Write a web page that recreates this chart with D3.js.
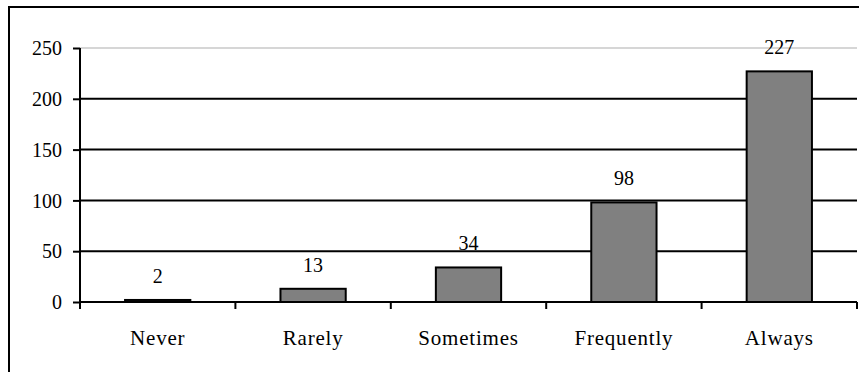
<!DOCTYPE html>
<html>
<head>
<meta charset="utf-8">
<script src="https://cdn.jsdelivr.net/npm/d3@7"></script>
<style>
  html, body { margin: 0; padding: 0; background: #fff; }
  svg { display: block; }
</style>
</head>
<body>
<svg id="chart" width="859" height="372" style="font-family:'Liberation Serif'"></svg>
<script>
// Frequency of responses per answer category
const categories = ["Never", "Rarely", "Sometimes", "Frequently", "Always"];
const counts = [2, 13, 34, 98, 227];
const yTicks = [0, 50, 100, 150, 200, 250];

const FONT = "Liberation Serif";
const svg = d3.select("#chart");
const W = 859, H = 372;
const plot = { left: 80, right: 857, top: 48, bottom: 302 };

// Outer chart frame
svg.append("rect")
  .attr("x", 9).attr("y", 7)
  .attr("width", W + 10).attr("height", H + 10)
  .attr("fill", "none").attr("stroke", "#000").attr("stroke-width", 2);

const x = d3.scaleBand().domain(categories).range([plot.left, plot.right]).paddingInner(0.58).paddingOuter(0.29);
const xb = d3.scaleBand().domain(categories).range([plot.left, plot.right]);
const y = d3.scaleLinear().domain([0, 250]).range([plot.bottom, plot.top]);

// Horizontal gridlines (top one is light grey)
svg.append("g").selectAll("line").data(yTicks.filter(d => d > 0)).join("line")
  .attr("x1", plot.left).attr("x2", plot.right)
  .attr("y1", d => y(d)).attr("y2", d => y(d))
  .attr("stroke", d => d === 250 ? "#c8c8c8" : "#000")
  .attr("stroke-width", d => d === 250 ? 1.5 : 2);

// Y axis
const yAxis = svg.append("g").attr("transform", `translate(${plot.left},0)`)
  .call(d3.axisLeft(y).tickValues(yTicks).tickSize(7).tickPadding(11));
yAxis.attr("font-family", null).attr("font-size", null);
yAxis.select(".domain").attr("stroke", "#000").attr("stroke-width", 2)
  .attr("d", `M0,${plot.top}V${plot.bottom}`);
yAxis.selectAll(".tick line").attr("stroke", "#000").attr("stroke-width", 2);
yAxis.selectAll(".tick text").attr("dy", "0.33em").attr("fill", "#000")
  .style("font-family", FONT).style("font-size", "20px");

// Bars
svg.append("g").selectAll("rect").data(counts).join("rect")
  .attr("x", (d, i) => x(categories[i]))
  .attr("width", x.bandwidth())
  .attr("y", d => y(d))
  .attr("height", d => y(0) - y(d))
  .attr("fill", "#808080")
  .attr("stroke", "#000").attr("stroke-width", 2);

// X axis
const xAxis = svg.append("g").attr("transform", `translate(0,${plot.bottom})`)
  .call(d3.axisBottom(xb).tickSize(0).tickPadding(28));
xAxis.attr("font-family", null).attr("font-size", null);
xAxis.select(".domain").attr("stroke", "#000").attr("stroke-width", 2)
  .attr("d", `M${plot.left},0H${plot.right}`);
xAxis.selectAll(".tick text").attr("fill", "#000")
  .style("font-family", FONT).style("font-size", "21px")
  .style("letter-spacing", "0.8px");
// Boundary tick marks between categories
svg.append("g").selectAll("line")
  .data(categories.map(c => xb(c)).concat([plot.right]))
  .join("line")
  .attr("x1", d => d).attr("x2", d => d)
  .attr("y1", plot.bottom).attr("y2", plot.bottom + 7)
  .attr("stroke", "#000").attr("stroke-width", 2);

// Value labels
svg.append("g").selectAll("text").data(counts).join("text")
  .attr("x", (d, i) => x(categories[i]) + x.bandwidth() / 2)
  .attr("y", d => y(d) - 17)
  .attr("text-anchor", "middle")
  .style("font-family", FONT).style("font-size", "20px").attr("fill", "#000")
  .text(d => d);
</script>
</body>
</html>
